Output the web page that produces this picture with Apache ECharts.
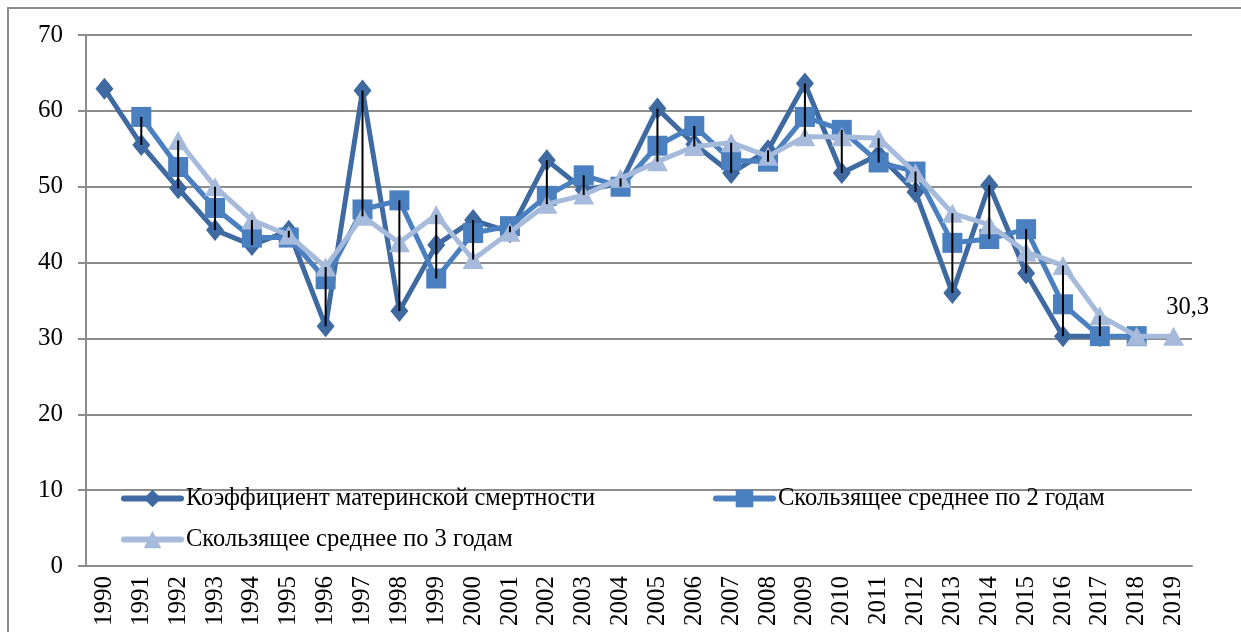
<!DOCTYPE html>
<html>
<head>
    <meta charset="utf-8">
    <title>Коэффициент материнской смертности</title>
    <script src="https://cdn.jsdelivr.net/npm/echarts@6/dist/echarts.min.js"></script>
    <style>
        html, body { margin: 0; padding: 0; background: #fff; }
        #main { width: 1241px; height: 632px; }
    </style>
</head>
<body>
    <div id="main"></div>
    <script type="text/javascript">
        // годы
        var years = ['1990', '1991', '1992', '1993', '1994', '1995', '1996', '1997', '1998', '1999',
            '2000', '2001', '2002', '2003', '2004', '2005', '2006', '2007', '2008', '2009',
            '2010', '2011', '2012', '2013', '2014', '2015', '2016', '2017', '2018', '2019'];
        // коэффициент материнской смертности
        var coef = [62.9, 55.5, 49.8, 44.3, 42.3, 44.2, 31.6, 62.7, 33.6, 42.3,
            45.6, 44.0, 53.5, 49.6, 50.4, 60.3, 55.6, 51.8, 54.8, 63.6,
            51.8, 54.2, 49.3, 36.0, 50.2, 38.6, 30.3, 30.3, null, null];
        // скользящее среднее по 2 годам
        var ma2 = [null, 59.2, 52.6, 47.2, 43.3, 43.3, 37.8, 47.0, 48.2, 37.9,
            43.9, 44.8, 48.8, 51.5, 50.0, 55.4, 58.0, 53.5, 53.3, 59.2,
            57.5, 53.2, 52.0, 42.6, 43.1, 44.4, 34.5, 30.3, 30.3, null];
        // скользящее среднее по 3 годам
        var ma3 = [null, null, 56.1, 50.0, 45.6, 43.6, 39.4, 46.1, 42.6, 46.3,
            40.4, 44.0, 47.7, 48.9, 51.1, 53.3, 55.3, 55.8, 54.0, 56.6,
            56.6, 56.4, 51.8, 46.5, 45.0, 41.4, 39.6, 33.0, 30.3, 30.3];
        var yTicks = [0, 10, 20, 30, 40, 50, 60, 70];

        var names = ['Коэффициент материнской смертности', 'Скользящее среднее по 2 годам', 'Скользящее среднее по 3 годам'];
        var font = 'Liberation Serif';
        var gridColor = '#8c8c8c';

        // линии максимум-минимум
        var hiLo = years.map(function (y, i) {
            var v = [coef[i], ma2[i], ma3[i]].filter(function (x) { return x != null; });
            return [i, Math.min.apply(null, v), Math.max.apply(null, v)];
        });

        // подпись только у последней точки
        var ma3Data = ma3.map(function (v, i) {
            if (i == ma3.length - 1) {
                return {
                    value: v,
                    label: {
                        show: true, position: 'top', offset: [14, -2],
                        color: '#000', fontFamily: font, fontSize: 24.5,
                        formatter: function (p) { return String(p.value).replace('.', ','); }
                    }
                };
            }
            return v;
        });

        var legendText = { color: '#000', fontFamily: font, fontSize: 24.5 };
        var legendLine = { width: 6, cap: 'round' };

        var myChart = echarts.init(document.getElementById('main'));
        var option = {
            animation: false,
            grid: { left: 86, right: 49, top: 35, bottom: 66, containLabel: false },
            legend: [
                { data: [names[0]], left: 116, top: 481, itemWidth: 57, itemHeight: 22, lineStyle: legendLine, textStyle: legendText },
                { data: [names[1]], left: 708, top: 481, itemWidth: 57, itemHeight: 22, lineStyle: legendLine, textStyle: legendText },
                { data: [names[2]], left: 116, top: 522, itemWidth: 57, itemHeight: 22, lineStyle: legendLine, textStyle: legendText }
            ],
            graphic: [{
                type: 'polyline',
                shape: { points: [[8, 640], [8, 8], [1250, 8]] },
                style: { stroke: gridColor, lineWidth: 2, fill: null }
            }],
            xAxis: {
                type: 'category',
                data: years,
                boundaryGap: true,
                axisLine: { lineStyle: { color: gridColor, width: 2 } },
                axisTick: { show: false },
                axisLabel: { rotate: 90, margin: 10, color: '#000', fontFamily: font, fontSize: 25, interval: 0 }
            },
            yAxis: {
                type: 'value',
                min: yTicks[0],
                max: yTicks[yTicks.length - 1],
                interval: 10,
                axisLine: { show: true, lineStyle: { color: gridColor, width: 2 } },
                axisTick: { show: true, length: 8, lineStyle: { color: gridColor, width: 2 } },
                splitLine: { lineStyle: { color: gridColor, width: 2 } },
                axisLabel: { margin: 23, color: '#000', fontFamily: font, fontSize: 25 }
            },
            series: [{
                name: names[0],
                type: 'line',
                data: coef,
                symbol: 'diamond',
                symbolSize: [18, 22],
                itemStyle: { color: '#3e6aa1' },
                lineStyle: { width: 5, color: '#3e6aa1' },
                z: 2
            }, {
                name: names[1],
                type: 'line',
                data: ma2,
                symbol: 'rect',
                symbolSize: 20,
                itemStyle: { color: '#4a7fc0' },
                lineStyle: { width: 5, color: '#4a7fc0' },
                z: 3
            }, {
                name: names[2],
                type: 'line',
                data: ma3Data,
                symbol: 'triangle',
                symbolSize: [21, 19],
                itemStyle: { color: '#a6badb' },
                lineStyle: { width: 5, color: '#a6badb' },
                z: 4
            }, {
                type: 'custom',
                data: hiLo,
                z: 10,
                silent: true,
                renderItem: function (params, api) {
                    var p1 = api.coord([api.value(0), api.value(1)]);
                    var p2 = api.coord([api.value(0), api.value(2)]);
                    return {
                        type: 'line',
                        shape: { x1: p1[0], y1: p1[1], x2: p2[0], y2: p2[1] },
                        style: { stroke: '#000', lineWidth: 2 }
                    };
                }
            }]
        };
        myChart.setOption(option);
        window.onresize = myChart.resize;
    </script>
</body>
</html>
